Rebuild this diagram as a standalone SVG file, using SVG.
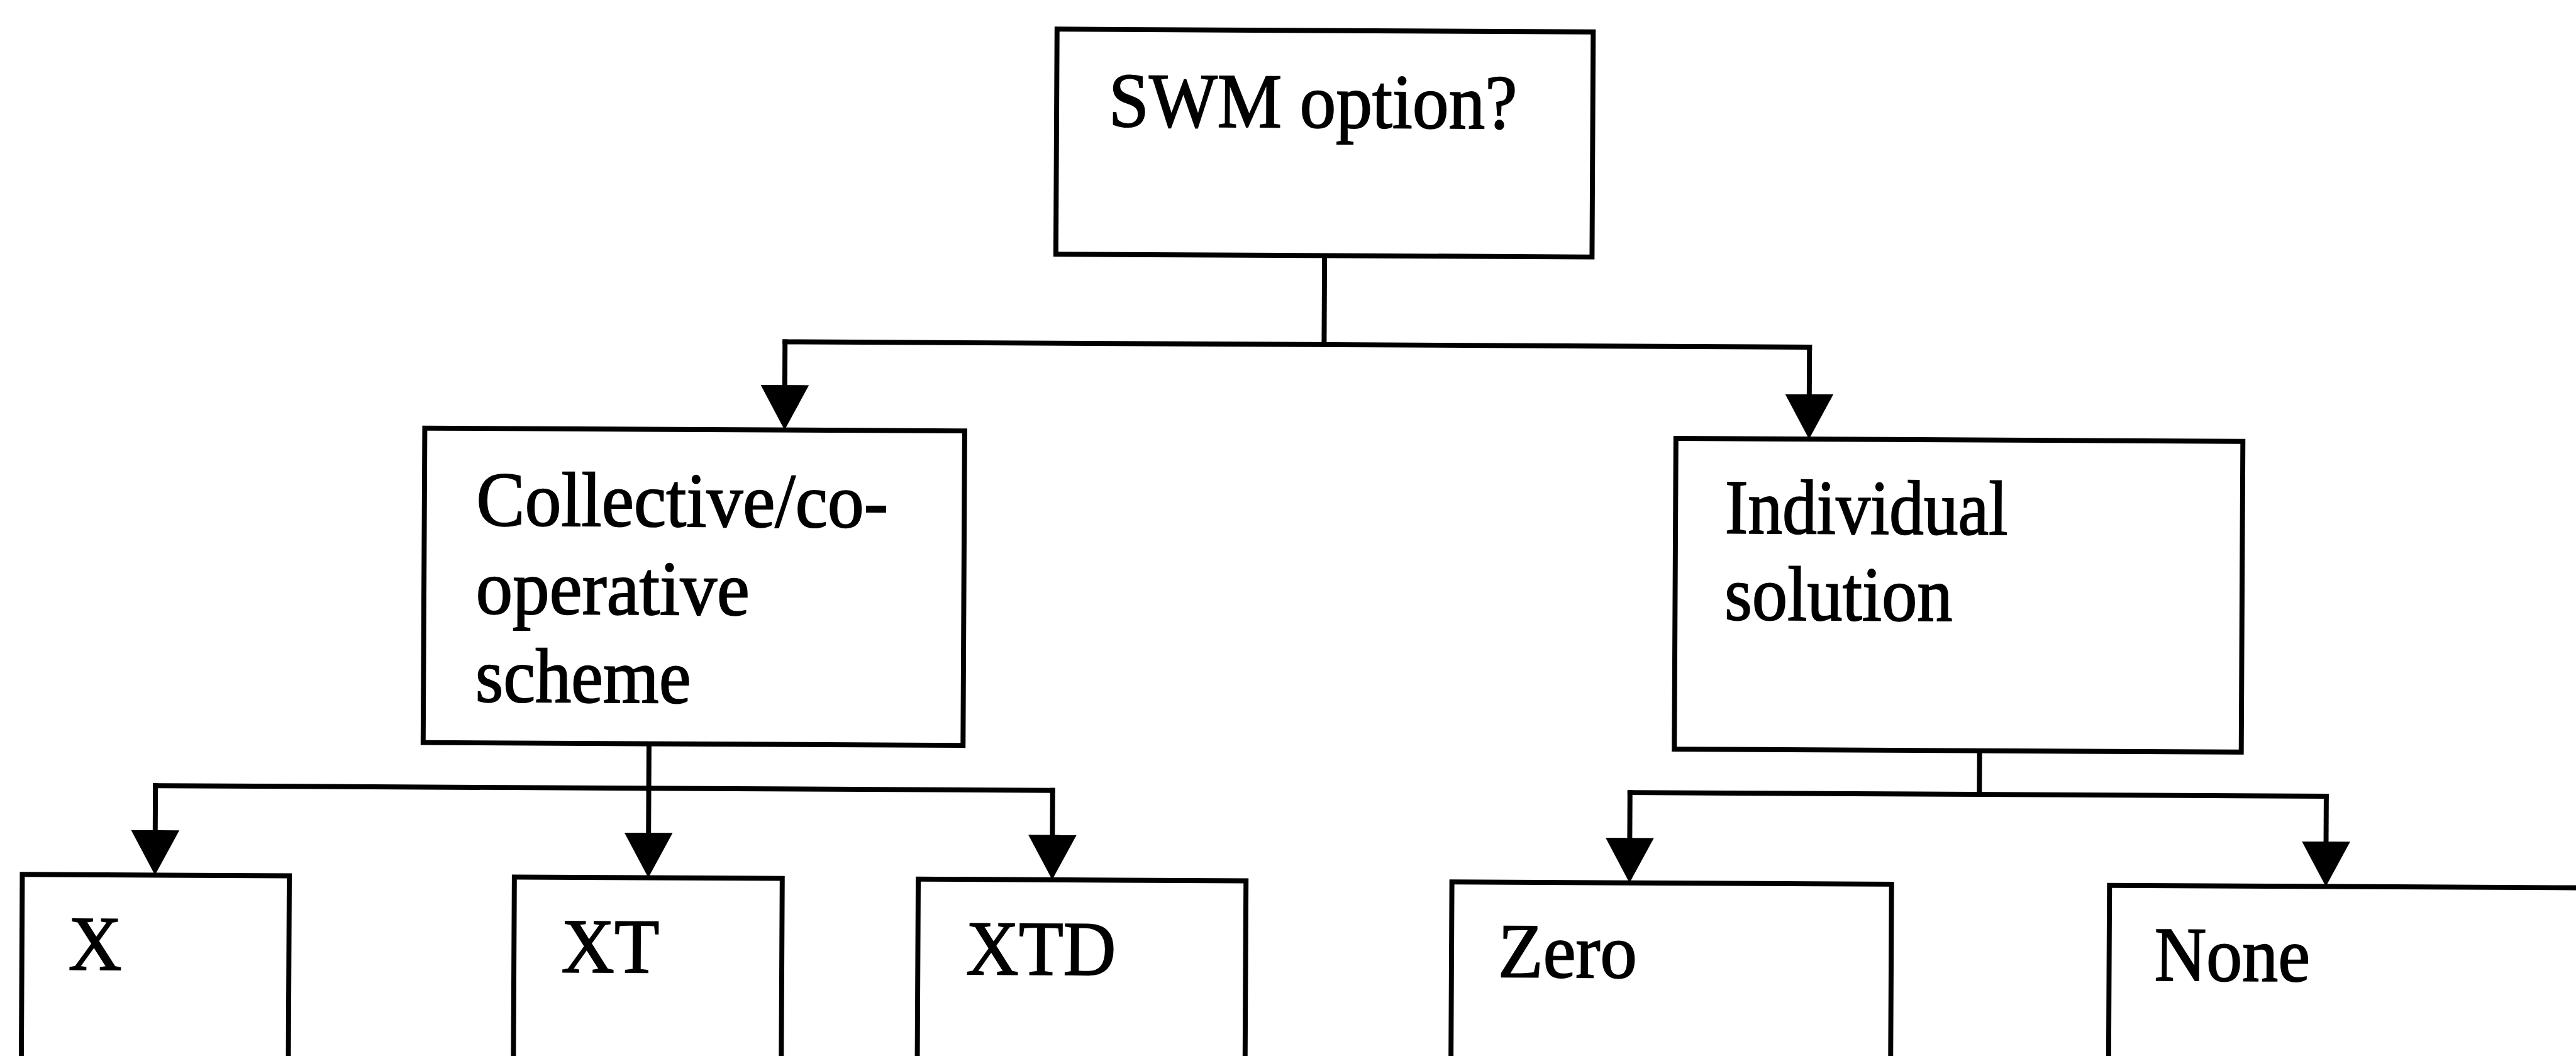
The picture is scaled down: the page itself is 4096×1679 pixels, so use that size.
<svg xmlns="http://www.w3.org/2000/svg" width="4096" height="1679" viewBox="0 0 4096 1679">
  <defs>
    <style>
      .box { fill: #ffffff; stroke: #000000; stroke-width: 12; }
      .wire { fill: none; stroke: #000000; stroke-width: 12; stroke-linecap: square; }
      .arr { marker-end: url(#head); }
      .lbl { font-family: "Liberation Serif", "Times New Roman", serif; font-size: 186px; fill: #000000; stroke: #000000; stroke-width: 3; }
    </style>
    <!-- solid downward arrowhead; the tip sits 40 units past the end of its line -->
    <marker id="head" markerUnits="userSpaceOnUse" viewBox="0 0 108 116" markerWidth="108" markerHeight="116" refX="68" refY="58" orient="auto">
      <path d="M0,0 L108,58 L0,116 Z" fill="#000000"/>
    </marker>
  </defs>

  <rect x="0" y="0" width="4096" height="1679" fill="#ffffff"/>

  <!-- drawn in 6193 x 2539 units, scaled to the window and turned slightly -->
  <g transform="scale(0.66139) rotate(0.3 3096 1270)">

    <g id="connectors">
      <!-- root to first level -->
      <path class="wire" d="M3181,614 V828"/>
      <path class="wire" d="M1885,828 H4348"/>
      <path class="wire arr" d="M1885,828 V1000"/>
      <path class="wire arr" d="M4348,828 V1009"/>
      <!-- collective scheme to its three options -->
      <path class="wire" d="M377,1903 H2534"/>
      <path class="wire arr" d="M1563,1796 V2078"/>
      <path class="wire arr" d="M377,1903 V2078"/>
      <path class="wire arr" d="M2534,1903 V2078"/>
      <!-- individual solution to its two options -->
      <path class="wire" d="M4762,1796 V1901"/>
      <path class="wire" d="M3922,1901 H5596"/>
      <path class="wire arr" d="M3922,1901 V2078"/>
      <path class="wire arr" d="M5596,1901 V2078"/>
    </g>

    <g id="node-swm">
      <rect class="box" x="2535" y="73" width="1289" height="541"/>
      <text class="lbl" x="2660" y="306" textLength="982" lengthAdjust="spacingAndGlyphs">SWM option?</text>
    </g>

    <g id="node-collective">
      <rect class="box" x="1020" y="1040" width="1298" height="756"/>
      <text class="lbl" x="1145" y="1273" textLength="990" lengthAdjust="spacingAndGlyphs">Collective/co-</text>
      <text class="lbl" x="1145" y="1485" textLength="658" lengthAdjust="spacingAndGlyphs">operative</text>
      <text class="lbl" x="1145" y="1697" textLength="518" lengthAdjust="spacingAndGlyphs">scheme</text>
    </g>

    <g id="node-individual">
      <rect class="box" x="4028" y="1049" width="1363" height="747"/>
      <text class="lbl" x="4147" y="1276" textLength="680" lengthAdjust="spacingAndGlyphs">Individual</text>
      <text class="lbl" x="4147" y="1484" textLength="548" lengthAdjust="spacingAndGlyphs">solution</text>
    </g>

    <g id="node-x">
      <rect class="box" x="58" y="2118" width="642" height="700"/>
      <text class="lbl" x="170" y="2346" textLength="128" lengthAdjust="spacingAndGlyphs">X</text>
    </g>

    <g id="node-xt">
      <rect class="box" x="1241" y="2118" width="644" height="700"/>
      <text class="lbl" x="1355" y="2346" textLength="235" lengthAdjust="spacingAndGlyphs">XT</text>
    </g>

    <g id="node-xtd">
      <rect class="box" x="2212" y="2118" width="788" height="700"/>
      <text class="lbl" x="2328" y="2346" textLength="360" lengthAdjust="spacingAndGlyphs">XTD</text>
    </g>

    <g id="node-zero">
      <rect class="box" x="3495" y="2118" width="1057" height="700"/>
      <text class="lbl" x="3607" y="2346" textLength="334" lengthAdjust="spacingAndGlyphs">Zero</text>
    </g>

    <g id="node-none">
      <rect class="box" x="5076" y="2118" width="1400" height="700"/>
      <text class="lbl" x="5185" y="2346" textLength="374" lengthAdjust="spacingAndGlyphs">None</text>
    </g>

  </g>
</svg>
